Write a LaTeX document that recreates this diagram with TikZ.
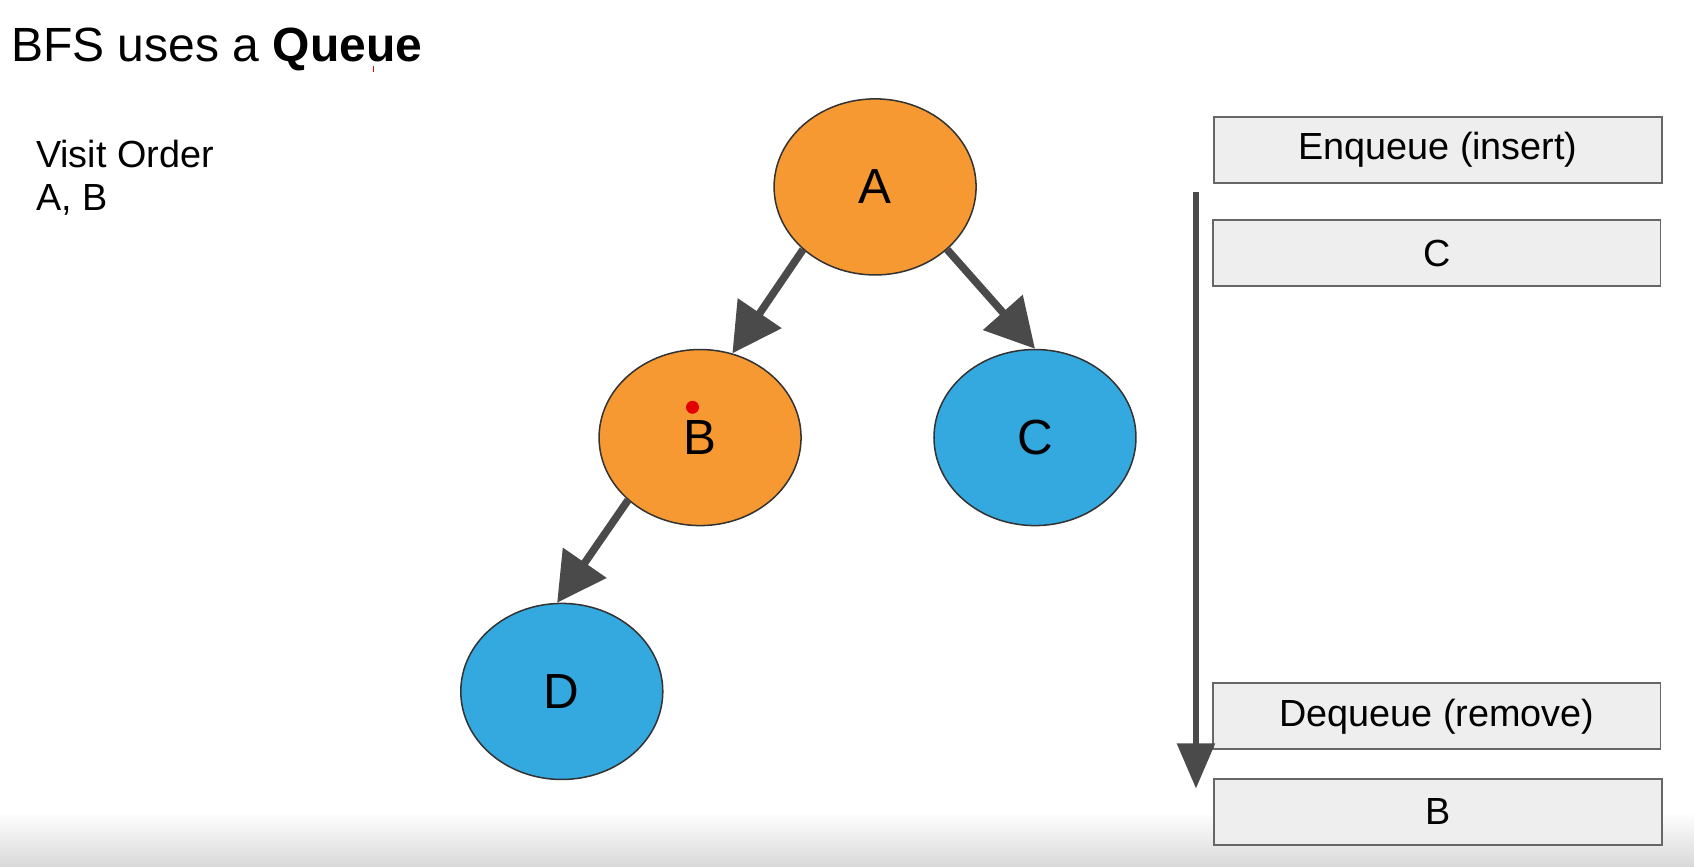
\documentclass[tikz,border=0pt]{standalone}
\usepackage{fontspec}
\setmainfont{Liberation Sans}
\usetikzlibrary{shapes.geometric,arrows.meta}
\definecolor{nodeorange}{HTML}{F79932}
\definecolor{nodeblue}{HTML}{33A9E0}
\definecolor{arrowgray}{HTML}{4A4A4A}
\definecolor{boxgray}{HTML}{EEEEEE}
\definecolor{linegray}{HTML}{666666}

\begin{document}
\begin{tikzpicture}[x=0.02cm,y=-0.02cm]
\tikzstyle{every node}=[font=\fontsize{26}{30}\selectfont]
\tikzstyle{vertex}=[ellipse,draw=black!80,line width=0.8pt,minimum width=3.74cm,minimum height=3.26cm,inner sep=0pt]
\tikzstyle{edge}=[draw=arrowgray,line width=4pt,-{Triangle[length=0.9cm,width=0.95cm]}]
\tikzstyle{qbox}=[rectangle,draw=linegray,fill=boxgray,line width=1pt,minimum width=8.28cm,minimum height=1.22cm,font=\fontsize{19.9}{24}\selectfont]

\useasboundingbox (0,0) rectangle (1568,802);
\shade[top color=white,bottom color=black!15] (0,752) rectangle (1568,802);

\node[anchor=base west,inner sep=0pt,font=\fontsize{25.3}{30}\selectfont] (title) at (10,57) {BFS uses a \textbf{Queue}};
\node[anchor=north west,inner sep=0pt,align=left,font=\fontsize{19.9}{22.8}\selectfont] (order) at (33,129) {Visit Order\\A, B};

\node[vertex,fill=nodeorange] (A) at (810,173) {A};
\node[vertex,fill=nodeorange] (B) at (648,405) {B};
\node[vertex,fill=nodeblue] (C) at (958,405) {C};
\node[vertex,fill=nodeblue] (D) at (520,640) {D};

\draw[edge] (A.221) -- (B.69);
\draw[edge] (A.319) -- (C.90);
\draw[edge] (B.221) -- (D.93);

\node[qbox] (enqueue) at (1331,139) {Enqueue (insert)};
\node[qbox] (qC) at (1330,234.5) {C};
\node[qbox] (dequeue) at (1330,663) {Dequeue (remove)};
\node[qbox] (qB) at (1331,751.5) {B};

\coordinate (qtop) at (1107,178);
\coordinate (qend) at (1107,730);
\draw[draw=arrowgray,line width=3.5pt,-{Triangle[length=0.84cm,width=0.68cm]}] (qtop) -- (qend);

\fill[red!90!black] (641,377) circle (6);
\draw[red,line width=0.6pt] (346,61) -- (346,67);
\end{tikzpicture}
\end{document}
